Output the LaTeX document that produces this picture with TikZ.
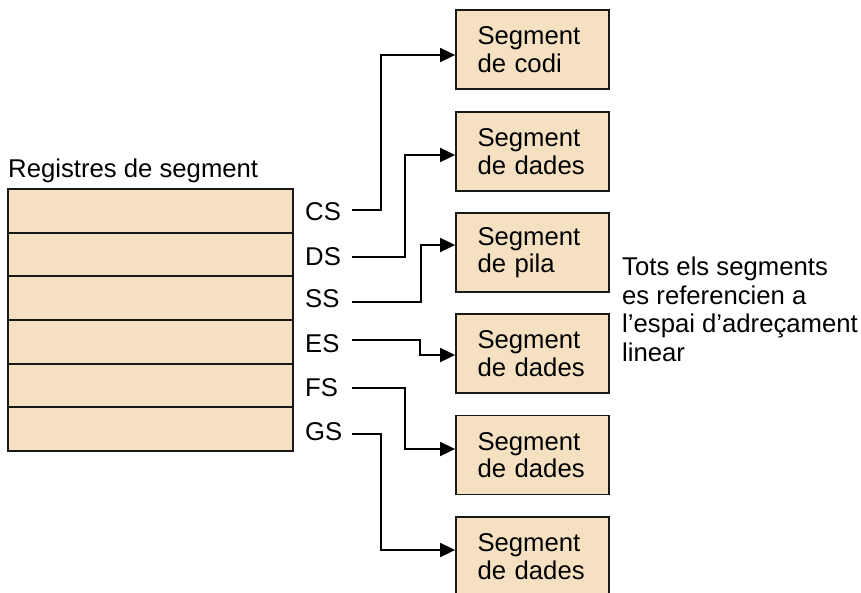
\documentclass[tikz,border=0pt]{standalone}
\usepackage{fontspec}
\setmainfont{Liberation Sans}
\usetikzlibrary{arrows.meta}
\definecolor{beige}{HTML}{F5E1C2}
\begin{document}
\begin{tikzpicture}[x=1pt,y=-1pt,
  reg/.style={draw=black!90,line width=1.8pt,fill=beige,minimum width=285pt,minimum height=43.67pt,inner sep=0pt,outer sep=0pt},
  seg/.style={draw=black!90,line width=1.8pt,fill=beige,minimum width=153pt,minimum height=79pt,inner sep=0pt,text width=110pt,align=left,font=\fontsize{25.7}{27.5}\selectfont},
  lab/.style={anchor=west,inner sep=0pt,font=\fontsize{25.7}{27.5}\selectfont},
  conn/.style={line width=1.8pt,-{Triangle[length=15pt,width=14pt]}}]
\useasboundingbox (0,0) rectangle (861,592);
\clip (0,0) rectangle (861,592);
% registers
\foreach \i in {1,...,6}{
  \node[reg] (r\i) at (150.5,{189+43.67*(\i-0.5)}) {};
}
\draw[draw=black!90,line width=2pt] (r1.north west) rectangle (r6.south east);
\node[anchor=base west,inner sep=0pt,font=\fontsize{25.7}{27.5}\selectfont] (title) at (8,177) {Registres de segment};
% labels
\node[lab] (lCS) at (305,212) {CS};
\node[lab] (lDS) at (305,257) {DS};
\node[lab] (lSS) at (305,299) {SS};
\node[lab] (lES) at (305,344) {ES};
\node[lab] (lFS) at (305,388) {FS};
\node[lab] (lGS) at (305,432) {GS};
% segments
\node[seg] (s1) at (532.5,49.5) {Segment\\de codi};
\node[seg] (s2) at (532.5,151.5) {Segment\\de dades};
\node[seg] (s3) at (532.5,252.5) {Segment\\de pila};
\node[seg] (s4) at (532.5,353.5) {Segment\\de dades};
\node[seg] (s5) at (532.5,455) {Segment\\de dades};
\node[seg] (s6) at (532.5,556.5) {Segment\\de dades};
% note
\node[anchor=north west,inner sep=0pt,align=left,font=\fontsize{25.7}{28.5}\selectfont] (note) at (622,257)
  {Tots els segments\\es referencien a\\l’espai d’adreçament\\linear};
% connector start points
\coordinate (cCS) at (352,210);
\coordinate (cDS) at (352,257);
\coordinate (cSS) at (352,302);
\coordinate (cES) at (352,340);
\coordinate (cFS) at (352,388);
\coordinate (cGS) at (352,434);
\draw[conn] (cCS) -- ++(29,0) |- ([yshift=-5.5pt]s1.west);
\draw[conn] (cDS) -- ++(53,0) |- ([yshift=-3.5pt]s2.west);
\draw[conn] (cSS) -- ++(69,0) |- ([yshift=7.5pt]s3.west);
\draw[conn] (cES) -- ++(68,0) |- ([yshift=-1.5pt]s4.west);
\draw[conn] (cFS) -- ++(53,0) |- ([yshift=6pt]s5.west);
\draw[conn] (cGS) -- ++(29,0) |- ([yshift=6.5pt]s6.west);
\end{tikzpicture}
\end{document}
